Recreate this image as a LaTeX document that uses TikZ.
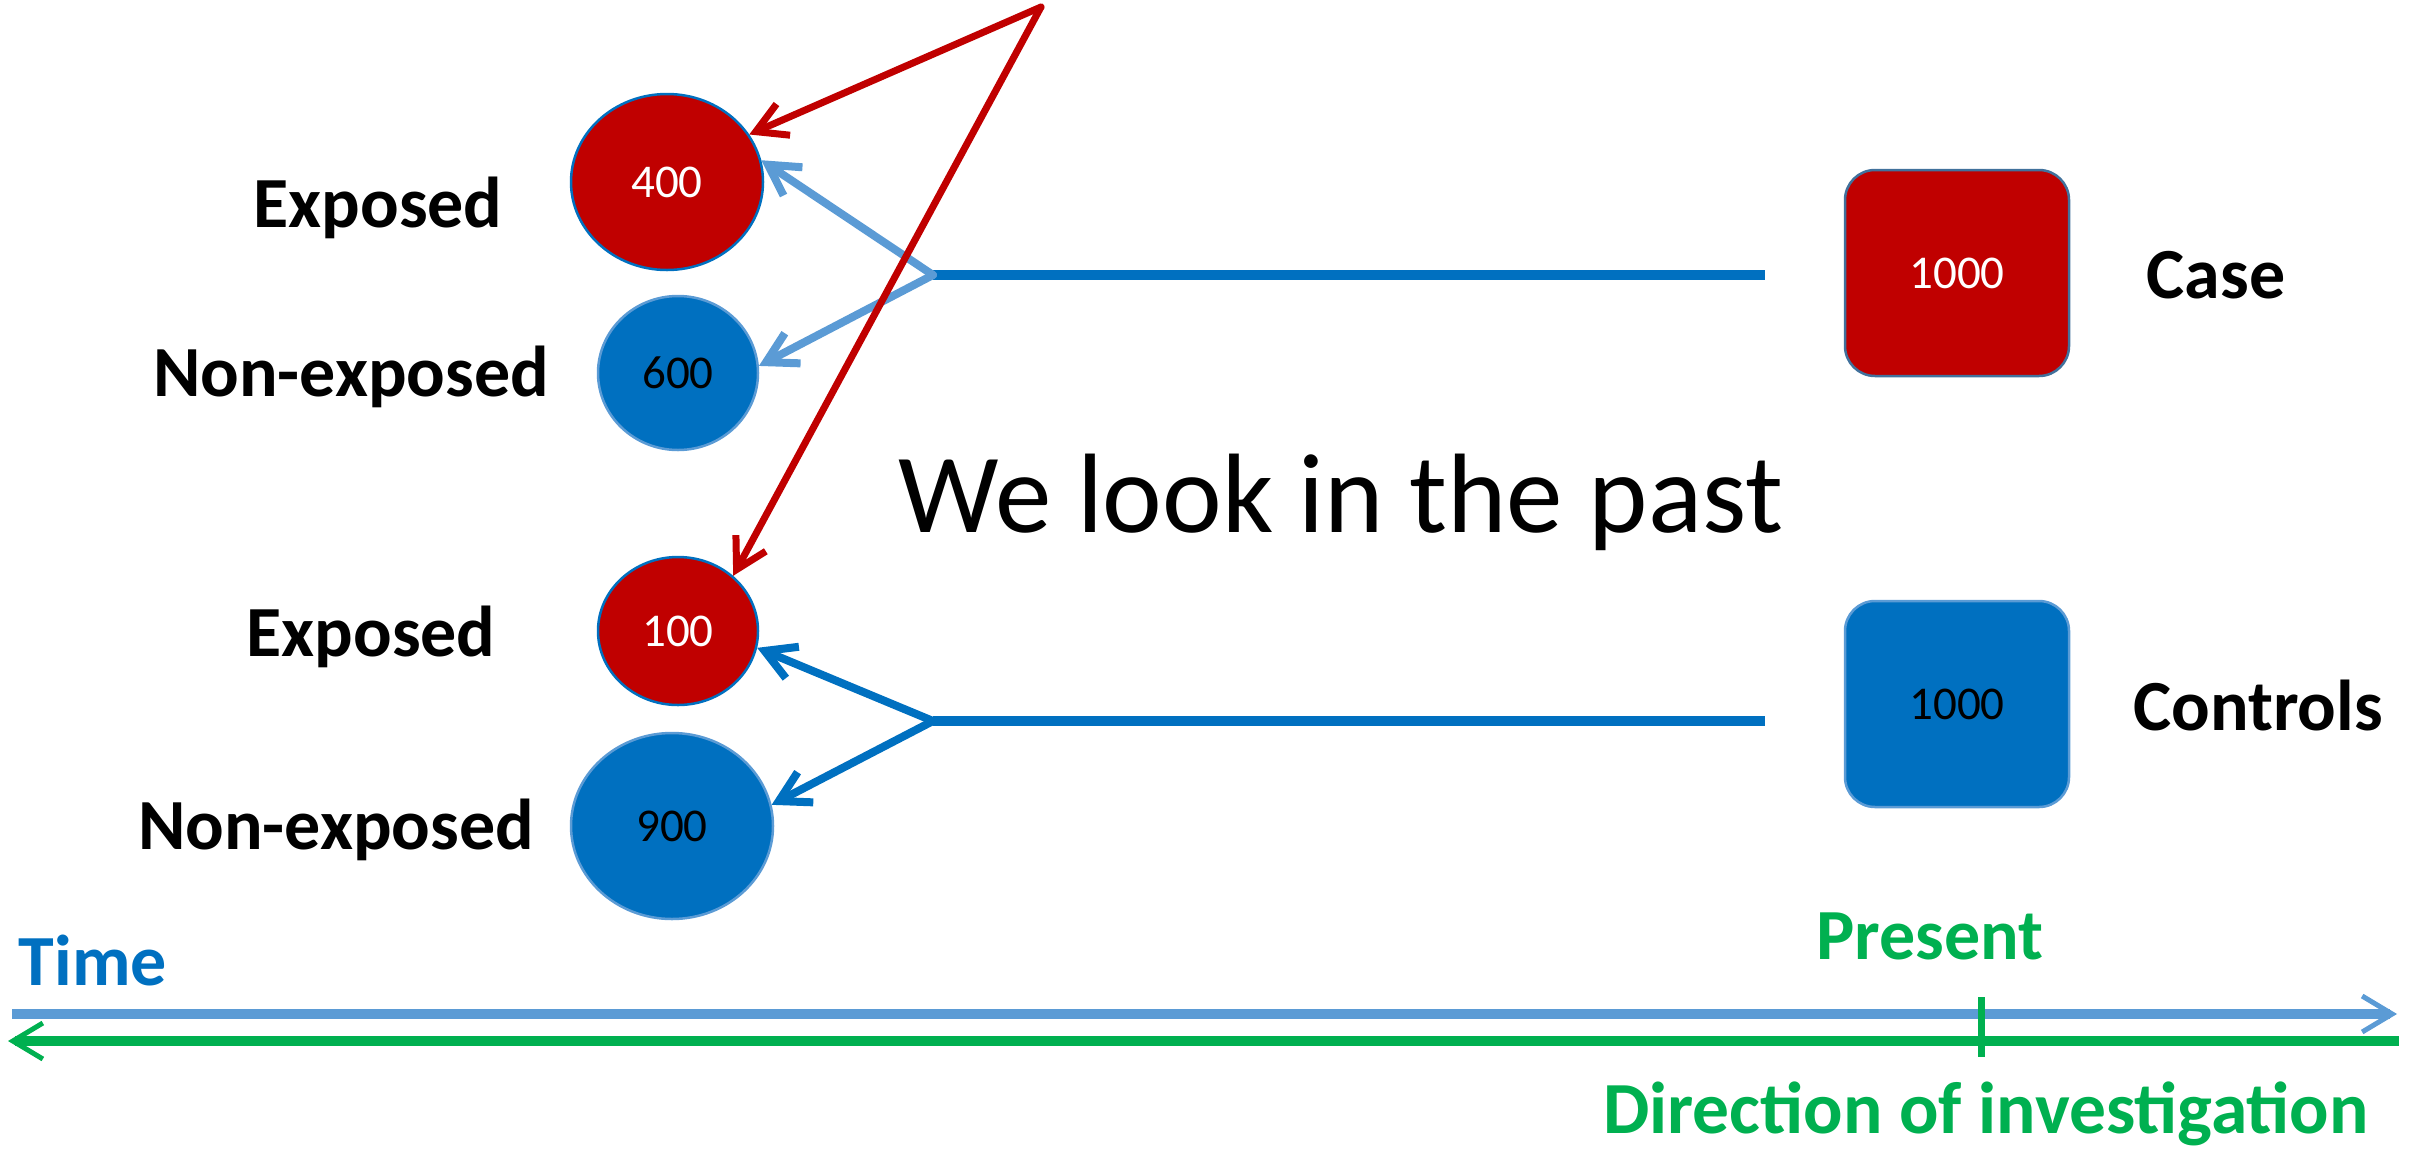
\documentclass[tikz,border=0pt]{standalone}
\usepackage{fontspec}
\setmainfont{Carlito}
\usetikzlibrary{arrows.meta,shapes.geometric}
\definecolor{cred}{HTML}{C00000}
\definecolor{cblue}{HTML}{0070C0}
\definecolor{lblue}{HTML}{5B9BD5}
\definecolor{cgreen}{HTML}{00B050}
\definecolor{bord}{HTML}{41719C}
\begin{document}
\begin{tikzpicture}[x=1pt,y=-1pt,
  lbl/.style={font=\fontsize{72}{80}\selectfont\bfseries, inner sep=0pt, anchor=base},
  num/.style={font=\fontsize{47}{50}\selectfont},
  circ/.style={ellipse, inner sep=0pt, line width=2.5pt},
  rbox/.style={rectangle, rounded corners=30pt, minimum width=224pt, minimum height=206pt, line width=2.5pt},
  barb/.style={-{Straight Barb[length=30pt,width=34pt]}, line cap=round, line join=round},
]
\useasboundingbox (0,0) rectangle (2425,1149);

% circles
\node[circ, fill=cred, draw=cblue, minimum width=192pt, minimum height=176pt, num, text=white] (c400) at (667,182) {400};
\node[circ, fill=cblue, draw=lblue, minimum width=160pt, minimum height=154pt, num] (c600) at (678,373) {600};
\node[circ, fill=cred, draw=cblue, minimum width=160pt, minimum height=148pt, num, text=white] (c100) at (678,631) {100};
\node[circ, fill=cblue, draw=lblue, minimum width=202pt, minimum height=186pt, num] (c900) at (672,826) {900};

% boxes
\node[rbox, fill=cred, draw=bord, num, text=white] (case) at (1957,273) {1000};
\node[rbox, fill=cblue, draw=lblue, num] (ctrl) at (1957,704) {1000};

% labels
\node[lbl] (le1) at (378,227) {Exposed};
\node[lbl] (ln1) at (351,396) {Non-exposed};
\node[lbl] (le2) at (371,656) {Exposed};
\node[lbl] (ln2) at (336,849) {Non-exposed};
\node[lbl] (lcase) at (2216,298) {Case};
\node[lbl] (lctrl) at (2258,730) {Controls};
\node[font=\fontsize{113}{120}\selectfont, inner sep=0pt, anchor=base] (past) at (1341,532) {We look in the past};

% forks
\coordinate (f1) at (933,275);
\coordinate (e1) at (1765,275);
\coordinate (f2) at (933,721);
\coordinate (e2) at (1765,721);
\draw[cblue, line width=10pt] (f1) -- (e1);
\draw[cblue, line width=10pt] (f2) -- (e2);
\draw[lblue, line width=8pt, barb] (f1) -- (c400.13);
\draw[lblue, line width=8pt, barb] (f1) -- (c600.5);
\draw[cblue, line width=8pt, barb] (f2) -- (c100.-12);
\draw[cblue, line width=8pt, barb] (f2) -- (c900.12);

% red arrows
\coordinate (top) at (1041,7);
\draw[cred, line width=7pt, barb] (top) -- (c400.30);
\draw[cred, line width=7pt, barb] (top) -- (c100.45);

% timeline
\coordinate (tl) at (12,1014);
\coordinate (tr) at (2397,1014);
\coordinate (gl) at (8,1041);
\coordinate (gr) at (2399,1041);
\coordinate (tk1) at (1981,997);
\coordinate (tk2) at (1981,1057);
\draw[lblue, line width=10pt, -{Straight Barb[length=30pt,width=36pt,line width=5pt]}] (tl) -- (tr);
\draw[cgreen, line width=10pt, -{Straight Barb[length=30pt,width=36pt,line width=5pt]}] (gr) -- (gl);
\draw[cgreen, line width=7pt] (tk1) -- (tk2);
\node[lbl, text=cblue] (ltime) at (93,985) {Time};
\node[lbl, text=cgreen] (lpres) at (1930,959) {Present};
\node[lbl, font=\fontsize{73.5}{80}\selectfont\bfseries, text=cgreen] (ldir) at (1986,1133) {Direction of investigation};
\end{tikzpicture}
\end{document}
